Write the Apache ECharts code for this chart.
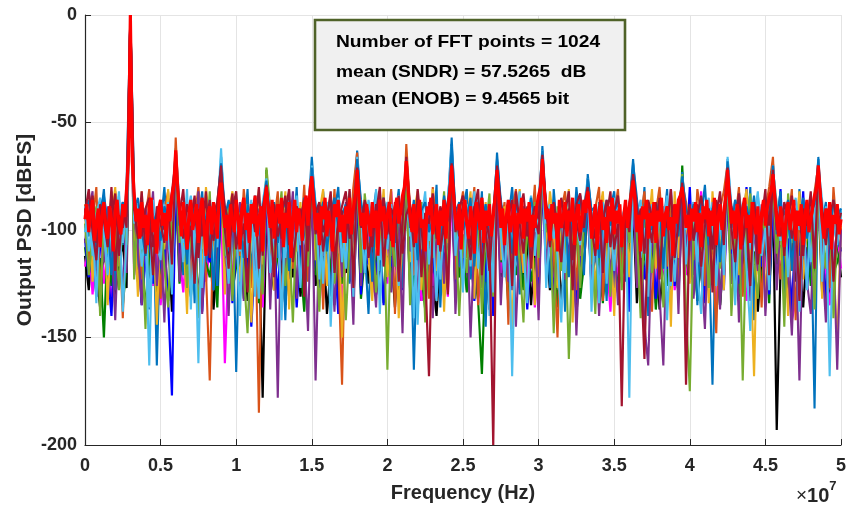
<!DOCTYPE html>
<html>
<head>
<meta charset="utf-8">
<script src="https://cdn.jsdelivr.net/npm/echarts@6/dist/echarts.min.js"></script>
<style>
  html, body { margin: 0; padding: 0; background: #fff; }
  #container { width: 855px; height: 508px; }
</style>
</head>
<body>
<div id="container"></div>
<script>
// FFT bin grids over 0 .. 50 MHz
const binHz = 250000
const freq = Array.from({ length: 201 }, (_, i) => i * binHz)
const fineBinHz = 125000
const freqFine = Array.from({ length: 401 }, (_, i) => i * fineBinHz)

const xTicks = ['0', '0.5', '1', '1.5', '2', '2.5', '3', '3.5', '4', '4.5', '5']
const yTicks = [0, -50, -100, -150, -200]

const infoLines = [
  'Number of FFT points = 1024',
  'mean (SNDR) = 57.5265  dB',
  'mean (ENOB) = 9.4565 bit'
]

// one PSD trace per Monte Carlo run (dBFS)
const run1 = [
  -94,-103,-87,-118,-96,-81,-112,-99,-128,-91,-107,-79,0,-82,-117,-95,-101,-137,-89,-163,
  -98,-80,-109,-93,-62,-88,-121,-100,-92,-134,-97,-82,-115,-104,-90,-126,-66,-95,-110,-88,
  -166,-93,-105,-81,-119,-98,-90,-129,-76,-101,-87,-113,-96,-142,-89,-107,-80,-122,-99,-93,
  -66,-91,-116,-82,-103,-131,-92,-80,-111,-97,-125,-88,-63,-90,-108,-139,-94,-82,-119,-100,
  -89,-112,-96,-81,-127,-65,-92,-165,-98,-87,-114,-93,-105,-79,-136,-99,-88,-57,-94,-117,
  -90,-81,-123,-97,-108,-82,-145,-92,-101,-64,-89,-118,-95,-80,-106,-130,-91,-99,-87,-112,
  -94,-61,-90,-127,-81,-103,-96,-138,-88,-109,-80,-99,-121,-74,-92,-115,-87,-104,-133,-90,
  -82,-111,-97,-124,-89,-67,-93,-107,-80,-140,-95,-88,-116,-99,-81,-128,-92,-104,-73,-96,
  -110,-87,-135,-94,-79,-106,-172,-90,-101,-118,-67,-91,-125,-82,-98,-113,-80,-142,-93,-105,
  -88,-120,-69,-95,-82,-131,-99,-90,-115,-81,-104,-127,-92,-183,-66,-97,-87,-121,-94,-108,
  -91
]
const run2 = [
  -88,-117,-96,-80,-129,-101,-90,-110,-82,-98,-141,-92,0,-105,-89,-123,-94,-81,-114,-99,
  -132,-91,-82,-107,-57,-97,-113,-88,-125,-95,-80,-102,-119,-170,-93,-87,-70,-108,-96,-130,
  -89,-112,-81,-99,-127,-94,-185,-90,-78,-115,-97,-82,-134,-101,-92,-118,-88,-106,-79,-124,
  -71,-98,-87,-137,-93,-108,-81,-116,-172,-91,-102,-80,-64,-111,-95,-88,-128,-99,-82,-113,
  -97,-81,-139,-92,-104,-60,-90,-121,-87,-109,-95,-132,-80,-100,-117,-89,-106,-65,-123,-93,
  -82,-113,-98,-80,-135,-94,-89,-110,-126,-69,-99,-87,-144,-92,-81,-107,-119,-90,-101,-79,
  -122,-64,-96,-88,-111,-150,-91,-82,-104,-95,-128,-87,-99,-77,-116,-90,-80,-133,-97,-108,
  -93,-81,-119,-101,-88,-72,-125,-94,-82,-110,-138,-92,-80,-105,-117,-89,-97,-129,-78,-87,
  -99,-114,-81,-93,-126,-88,-104,-148,-90,-82,-69,-109,-96,-80,-131,-92,-118,-87,-101,-136,
  -91,-80,-66,-106,-123,-89,-97,-81,-142,-94,-111,-88,-100,-82,-70,-115,-92,-127,-80,-103,
  -96
]
const run3 = [
  -99,-82,-124,-92,-108,-87,-135,-95,-80,-117,-90,-103,0,-92,-131,-82,-112,-98,-88,-144,
  -94,-109,-81,-127,-65,-91,-100,-139,-87,-106,-96,-121,-80,-99,-113,-89,-72,-130,-92,-82,
  -105,-124,-94,-88,-143,-101,-81,-116,-74,-93,-128,-89,-104,-82,-137,-95,-110,-87,-121,-99,
  -73,-114,-92,-81,-126,-97,-108,-88,-150,-94,-82,-119,-70,-98,-87,-112,-133,-91,-104,-81,
  -122,-96,-89,-141,-100,-72,-115,-92,-82,-128,-97,-107,-81,-119,-93,-138,-90,-66,-101,-88,
  -111,-95,-82,-132,-91,-103,-87,-124,-98,-74,-114,-89,-106,-146,-93,-81,-120,-100,-88,-135,
  -92,-70,-109,-82,-97,-127,-90,-104,-81,-143,-95,-112,-88,-80,-101,-129,-93,-82,-117,-98,
  -140,-91,-105,-87,-122,-75,-96,-136,-89,-100,-81,-118,-94,-108,-90,-145,-82,-113,-79,-99,
  -125,-88,-102,-116,-91,-134,-82,-107,-95,-128,-72,-100,-87,-121,-93,-81,-110,-168,-90,-103,
  -130,-95,-73,-88,-114,-99,-140,-89,-105,-82,-123,-97,-113,-87,-74,-132,-91,-101,-118,-152,
  -98
]
const run4 = [
  -106,-91,-82,-130,-98,-115,-89,-104,-142,-93,-87,-120,0,-96,-109,-135,-90,-101,-82,-126,
  -101,-143,-90,-97,-66,-124,-89,-106,-94,-117,-82,-139,-98,-91,-128,-103,-73,-95,-140,-93,
  -112,-87,-133,-99,-92,-121,-104,-88,-80,-137,-94,-178,-90,-118,-102,-82,-132,-97,-108,-147,
  -76,-170,-99,-112,-88,-104,-138,-93,-122,-87,-101,-144,-73,-126,-98,-89,-115,-136,-92,-107,
  -88,-129,-103,-94,-148,-74,-110,-98,-134,-90,-119,-87,-141,-102,-95,-125,-88,-72,-139,-100,
  -113,-92,-150,-105,-88,-127,-97,-116,-90,-77,-135,-99,-124,-89,-145,-103,-94,-131,-109,-96,
  -142,-72,-118,-95,-137,-101,-89,-123,-110,-92,-149,-104,-91,-84,-129,-97,-140,-106,-89,-121,
  -103,-135,-94,-112,-90,-79,-127,-98,-144,-163,-101,-92,-130,-163,-96,-114,-88,-139,-82,-108,
  -93,-132,-100,-118,-146,-95,-109,-89,-137,-102,-76,-125,-94,-143,-107,-91,-133,-99,-119,-88,
  -140,-105,-78,-128,-97,-90,-117,-149,-101,-170,-93,-124,-139,-96,-77,-112,-143,-91,-106,-165,
  -100
]
const run5 = [
  -97,-121,-103,-89,-140,-94,-111,-82,-100,-128,-92,-107,0,-123,-88,-101,-146,-91,-115,-95,
  -87,-118,-136,-93,-68,-106,-92,-127,-99,-88,-141,-97,-110,-82,-124,-95,-74,-112,-88,-133,
  -99,-92,-119,-148,-96,-87,-109,-130,-71,-90,-114,-98,-82,-126,-104,-143,-93,-100,-88,-117,
  -77,-104,-138,-95,-111,-88,-125,-99,-91,-142,-106,-93,-75,-120,-83,-101,-96,-129,-110,-90,
  -165,-97,-117,-88,-108,-73,-135,-94,-102,-87,-143,-99,-113,-91,-104,-82,-128,-71,-96,-140,
  -102,-120,-89,-111,-95,-139,-100,-83,-131,-75,-93,-106,-88,-125,-97,-115,-143,-92,-104,-87,
  -113,-71,-101,-93,-148,-89,-119,-96,-160,-106,-88,-127,-97,-79,-105,-139,-92,-98,-87,-131,
  -100,-94,-128,-89,-106,-78,-101,-141,-95,-88,-120,-104,-93,-136,-99,-83,-114,-96,-74,-137,
  -175,-98,-89,-110,-95,-127,-100,-88,-118,-93,-74,-140,-105,-91,-170,-99,-83,-116,-132,-94,
  -102,-89,-77,-111,-94,-145,-83,-106,-98,-124,-90,-103,-88,-137,-75,-96,-118,-89,-141,-100,
  -93
]
const run6 = [
  -89,-110,-95,-134,-87,-102,-121,-91,-99,-82,-138,-104,0,-94,-90,-117,-100,-163,-93,-107,
  -114,-88,-98,-130,-64,-92,-106,-81,-137,-96,-162,-90,-101,-87,-118,-94,-62,-99,-125,-89,
  -96,-140,-88,-113,-93,-105,-132,-87,-76,-120,-100,-89,-142,-94,-82,-111,-97,-127,-90,-104,
  -70,-87,-123,-98,-91,-145,-102,-88,-115,-96,-82,-131,-66,-93,-120,-90,-104,-81,-139,-97,
  -109,-88,-100,-126,-92,-67,-103,-89,-144,-95,-82,-116,-98,-133,-90,-107,-87,-61,-112,-94,
  -129,-91,-104,-82,-118,-97,-88,-140,-93,-68,-102,-122,-89,-168,-95,-82,-109,-134,-92,-101,
  -87,-63,-127,-100,-90,-112,-143,-94,-82,-121,-98,-107,-89,-76,-138,-93,-102,-88,-125,-96,
  -119,-90,-103,-87,-178,-70,-92,-113,-99,-131,-88,-106,-95,-89,-142,-101,-124,-91,-76,-116,
  -97,-88,-120,-139,-93,-102,-87,-126,-96,-110,-66,-89,-135,-100,-92,-117,-147,-94,-82,-112,
  -99,-128,-70,-93,-105,-88,-122,-96,-90,-138,-101,-87,-115,-97,-67,-124,-89,-168,-95,-107,
  -90
]
const run7 = [
  -92,-81,-101,-114,-88,-96,-108,-80,-119,-93,-99,-87,0,-90,-104,-82,-111,-95,-121,-89,
  -97,-106,-88,-116,-66,-93,-81,-109,-98,-125,-90,-103,-82,-113,-94,-87,-70,-100,-118,-91,
  -82,-107,-97,-129,-89,-101,-80,-112,-79,-95,-122,-88,-104,-92,-81,-115,-99,-90,-131,-94,
  -76,-102,-89,-110,-95,-82,-120,-98,-91,-106,-81,-127,-71,-96,-88,-113,-100,-92,-80,-117,
  -93,-105,-87,-124,-97,-66,-90,-108,-81,-99,-119,-168,-94,-88,-110,-96,-130,-69,-91,-103,
  -87,-98,-114,-90,-81,-121,-95,-104,-200,-70,-88,-100,-93,-126,-82,-97,-111,-89,-118,-94,
  -102,-65,-91,-108,-87,-99,-115,-92,-82,-128,-96,-105,-89,-80,-98,-112,-90,-120,-94,-82,
  -109,-97,-182,-91,-101,-74,-88,-116,-160,-95,-106,-87,-123,-93,-99,-81,-113,-96,-78,-172,
  -92,-104,-88,-117,-98,-90,-129,-94,-82,-107,-71,-99,-115,-89,-102,-93,-126,-87,-110,-96,
  -81,-121,-72,-100,-91,-112,-88,-104,-95,-133,-90,-98,-82,-118,-70,-94,-107,-89,-124,-97,
  -100
]
const run8 = [
  -90,-97,-84,-106,-92,-88,-101,-95,-83,-112,-89,-99,0,-86,-94,-103,-90,-85,-108,-93,
  -87,-100,-95,-82,-68,-91,-104,-88,-96,-84,-113,-92,-98,-86,-105,-91,-74,-89,-97,-83,
  -109,-94,-87,-99,-92,-85,-118,-90,-80,-96,-88,-103,-93,-84,-107,-98,-89,-95,-86,-110,
  -78,-92,-87,-101,-94,-84,-115,-96,-89,-82,-104,-91,-74,-99,-86,-93,-108,-88,-97,-85,
  -102,-90,-95,-84,-111,-93,-88,-99,-86,-122,-92,-97,-83,-104,-89,-95,-87,-72,-101,-90,
  -84,-96,-107,-89,-93,-85,-100,-119,-91,-75,-88,-98,-94,-86,-110,-92,-83,-103,-97,-89,
  -95,-70,-87,-100,-92,-106,-85,-96,-90,-114,-88,-83,-99,-82,-93,-104,-89,-97,-86,-108,
  -91,-84,-102,-95,-88,-76,-98,-90,-111,-86,-94,-101,-85,-97,-89,-124,-92,-87,-80,-99,
  -88,-105,-93,-84,-97,-90,-109,-86,-95,-101,-74,-89,-96,-83,-107,-92,-99,-88,-116,-94,
  -86,-98,-75,-91,-103,-87,-95,-84,-100,-92,-112,-88,-97,-85,-73,-90,-104,-93,-86,-99,
  -92
]
const run9 = [
  -101,-87,-112,-93,-85,-98,-120,-90,-95,-84,-106,-91,0,-97,-88,-109,-93,-136,-86,-99,
  -92,-104,-87,-96,-70,-89,-115,-93,-84,-101,-90,-127,-95,-86,-99,-108,-66,-91,-97,-85,
  -94,-110,-88,-99,-86,-131,-92,-97,-79,-89,-104,-95,-86,-113,-91,-98,-84,-107,-93,-88,
  -74,-96,-90,-125,-87,-94,-101,-85,-92,-118,-88,-97,-70,-91,-103,-86,-95,-89,-114,-93,
  -87,-99,-92,-84,-109,-96,-88,-141,-91,-97,-85,-105,-93,-89,-123,-95,-86,-64,-100,-90,
  -96,-88,-117,-92,-85,-102,-94,-89,-129,-72,-91,-98,-86,-108,-93,-87,-100,-95,-84,-112,
  -90,-66,-97,-88,-104,-93,-86,-120,-95,-89,-101,-84,-92,-79,-98,-90,-134,-87,-96,-91,
  -85,-107,-94,-89,-99,-73,-92,-86,-110,-95,-88,-103,-91,-97,-84,-126,-93,-89,-80,-100,
  -94,-87,-115,-91,-98,-85,-104,-92,-89,-121,-69,-95,-86,-101,-93,-88,-109,-96,-84,-97,
  -91,-103,-72,-88,-96,-110,-87,-94,-85,-100,-92,-128,-89,-97,-70,-86,-106,-93,-99,-88,
  -95
]
const run10 = [
  -93,-86,-99,-108,-90,-84,-96,-121,-89,-102,-87,-94,0,-91,-85,-100,-112,-88,-97,-92,
  -105,-89,-95,-86,-64,-98,-90,-116,-87,-93,-103,-85,-97,-91,-128,-88,-69,-94,-86,-101,
  -90,-97,-113,-88,-95,-84,-102,-91,-77,-99,-87,-106,-92,-86,-119,-94,-89,-98,-85,-103,
  -71,-89,-96,-87,-110,-92,-85,-99,-93,-88,-104,-95,-67,-86,-98,-91,-124,-89,-94,-85,
  -97,-90,-106,-88,-93,-68,-99,-86,-114,-91,-87,-101,-95,-89,-108,-84,-96,-60,-92,-87,
  -100,-94,-85,-117,-90,-97,-88,-104,-93,-67,-86,-99,-91,-111,-87,-95,-89,-102,-85,-96,
  -88,-63,-92,-99,-86,-107,-94,-90,-122,-87,-96,-84,-101,-76,-91,-89,-113,-95,-86,-98,
  -92,-87,-104,-90,-97,-69,-85,-109,-93,-88,-100,-94,-86,-118,-91,-97,-89,-103,-75,-90,
  -96,-88,-101,-85,-93,-107,-90,-87,-115,-94,-68,-99,-86,-92,-105,-89,-97,-84,-110,-91,
  -87,-95,-70,-102,-89,-93,-86,-119,-91,-98,-85,-104,-92,-88,-67,-96,-90,-107,-86,-94,
  -90
]
const runBlue = [
  -104,-122,-96,-131,-108,-93,-117,-140,-99,-112,-127,-101,0,-109,-98,-135,-114,-102,-125,-95,
  -118,-106,-133,-177,-75,-111,-99,-129,-104,-119,-97,-138,-107,-115,-100,-126,-82,-113,-103,-134,
  -109,-98,-121,-106,-145,-112,-100,-127,-86,-116,-104,-132,-97,-110,-123,-101,-136,-108,-95,-118,
  -84,-113,-127,-102,-119,-96,-109,-139,-105,-98,-124,-111,-80,-130,-103,-116,-99,-121,-107,-135,
  -100,-117,-105,-97,-128,-79,-114,-102,-137,-108,-96,-120,-110,-131,-99,-115,-104,-76,-126,-101,
  -118,-106,-96,-133,-111,-100,-124,-98,-140,-82,-107,-119,-97,-128,-104,-113,-99,-137,-109,-102,
  -125,-78,-112,-99,-131,-105,-96,-119,-108,-100,-134,-114,-97,-88,-122,-106,-129,-101,-116,-98,
  -127,-104,-115,-97,-138,-83,-110,-100,-123,-107,-96,-132,-112,-99,-118,-81,-126,-103,-85,-114,
  -80,-121,-107,-97,-134,-109,-101,-119,-96,-128,-84,-111,-99,-125,-105,-80,-113,-136,-102,-117,
  -98,-130,-86,-107,-81,-120,-104,-139,-97,-112,-82,-127,-100,-115,-80,-108,-133,-99,-121,-103,
  -110
]
const runBlack = [
  -112,-128,-104,-119,-136,-108,-123,-101,-131,-115,-106,-127,0,-118,-103,-134,-110,-125,-107,-120,
  -129,-111,-102,-138,-80,-116,-105,-126,-113,-100,-132,-109,-121,-104,-137,-114,-88,-123,-106,-130,
  -108,-119,-101,-133,-115,-124,-106,-178,-90,-112,-128,-103,-117,-135,-109,-122,-100,-131,-114,-107,
  -85,-126,-111,-102,-139,-118,-105,-129,-113,-120,-101,-134,-84,-116,-108,-125,-103,-130,-117,-106,
  -121,-110,-136,-104,-119,-82,-127,-112,-101,-133,-115,-106,-124,-140,-109,-118,-103,-80,-129,-114,
  -107,-125,-111,-132,-102,-120,-116,-137,-105,-84,-122,-108,-130,-113,-101,-127,-119,-104,-135,-110,
  -118,-79,-106,-128,-115,-103,-133,-112,-121,-107,-139,-117,-102,-90,-126,-111,-104,-131,-114,-120,
  -105,-129,-113,-122,-108,-88,-134,-106,-119,-126,-111,-103,-137,-115,-109,-124,-101,-130,-86,-117,
  -123,-108,-131,-114,-105,-128,-119,-102,-135,-112,-84,-125,-107,-133,-116,-104,-121,-110,-138,-113,
  -106,-127,-87,-193,-118,-109,-132,-104,-124,-115,-136,-108,-120,-103,-84,-129,-111,-134,-117,-105,
  -122
]
const runMagenta = [
  -117,-105,-130,-112,-99,-125,-108,-134,-115,-103,-128,-110,0,-121,-107,-131,-113,-100,-126,-109,
  -135,-116,-104,-122,-78,-111,-129,-106,-119,-101,-133,-114,-124,-108,-98,-127,-86,-162,-112,-120,
  -103,-131,-109,-117,-126,-100,-114,-136,-88,-107,-123,-111,-99,-130,-116,-105,-128,-113,-121,-102,
  -82,-119,-108,-132,-104,-124,-112,-98,-135,-110,-120,-106,-83,-127,-115,-101,-129,-109,-118,-103,
  -125,-82,-113,-130,-107,-80,-121,-111,-99,-133,-116,-104,-126,-109,-119,-100,-131,-84,-114,-122,
  -106,-128,-112,-97,-134,-117,-103,-125,-110,-86,-120,-105,-131,-114,-100,-127,-108,-123,-99,-136,
  -111,-81,-118,-104,-129,-113,-101,-132,-107,-122,-98,-126,-115,-92,-109,-130,-103,-119,-112,-138,
  -106,-124,-100,-116,-131,-87,-113,-127,-102,-120,-109,-134,-99,-117,-125,-105,-128,-111,-90,-121,
  -103,-130,-114,-82,-126,-108,-119,-137,-101,-123,-86,-112,-129,-106,-118,-133,-100,-124,-110,-127,
  -115,-102,-88,-121,-109,-131,-104,-142,-133,-116,-98,-125,-111,-128,-85,-107,-120,-135,-113,-101,
  -118
]
const runGreen = [
  -108,-121,-99,-131,-113,-150,-104,-126,-111,-97,-135,-116,0,-102,-124,-109,-137,-114,-100,-129,
  -118,-106,-133,-112,-79,-125,-103,-119,-131,-108,-100,-127,-115,-122,-105,-136,-84,-113,-101,-128,
  -117,-104,-132,-110,-123,-99,-134,-114,-72,-106,-126,-111,-101,-130,-119,-107,-124,-115,-138,-103,
  -84,-121,-109,-129,-102,-117,-135,-111,-125,-104,-119,-100,-82,-132,-113,-106,-127,-118,-101,-134,
  -112,-123,-105,-130,-116,-81,-109,-128,-102,-120,-137,-108,-114,-125,-100,-131,-117,-79,-106,-122,
  -110,-129,-104,-119,-133,-167,-112,-101,-126,-83,-115,-107,-135,-103,-121,-111,-128,-99,-124,-113,
  -130,-80,-105,-120,-114,-136,-102,-127,-109,-118,-100,-132,-116,-88,-108,-125,-111,-134,-104,-119,
  -112,-128,-101,-123,-115,-85,-106,-131,-110,-120,-103,-137,-117,-105,-126,-99,-114,-129,-70,-111,
  -124,-104,-133,-113,-100,-127,-118,-108,-135,-102,-82,-121,-112,-130,-106,-119,-103,-128,-114,-125,
  -101,-134,-85,-116,-107,-123,-111,-138,-104,-129,-113,-100,-126,-117,-83,-109,-132,-105,-120,-115,
  -108
]
// highlighted run (drawn on top), finer grid
const runRed = [
  -95,-88,-101,-92,-86,-105,-97,-90,-108,-93,-87,-99,-104,-89,-95,-110,-91,-86,-98,-102,
  -88,-94,-81,-66,0,-68,-83,-96,-90,-104,-87,-99,-93,-107,-89,-85,-101,-95,-111,-90,
  -86,-98,-92,-105,-88,-96,-84,-79,-63,-80,-91,-103,-87,-97,-109,-92,-86,-100,-94,-88,
  -106,-91,-85,-98,-112,-93,-89,-102,-87,-95,-104,-84,-78,-90,-99,-93,-108,-88,-96,-101,
  -86,-94,-109,-90,-85,-100,-92,-106,-88,-97,-84,-103,-95,-89,-110,-87,-80,-91,-99,-86,
  -104,-93,-88,-97,-85,-108,-92,-99,-87,-113,-94,-86,-101,-90,-96,-105,-88,-84,-98,-82,
  -75,-87,-100,-92,-107,-89,-95,-85,-103,-91,-98,-110,-88,-94,-86,-101,-93,-106,-89,-97,
  -85,-102,-90,-84,-72,-86,-98,-92,-109,-88,-95,-103,-87,-99,-91,-112,-86,-96,-89,-104,
  -93,-87,-100,-108,-90,-85,-97,-92,-84,-80,-68,-82,-94,-101,-88,-106,-92,-86,-99,-95,
  -110,-89,-93,-85,-102,-96,-88,-107,-91,-98,-86,-104,-90,-83,-70,-84,-95,-100,-88,-109,
  -92,-86,-97,-104,-89,-95,-111,-87,-93,-100,-85,-106,-91,-98,-88,-103,-94,-84,-72,-86,
  -99,-90,-107,-93,-86,-101,-95,-88,-112,-92,-97,-85,-104,-90,-96,-87,-108,-93,-99,-89,
  -84,-80,-67,-81,-95,-90,-105,-88,-97,-92,-110,-86,-99,-94,-87,-103,-91,-96,-85,-107,
  -93,-88,-101,-95,-86,-92,-82,-90,-104,-97,-88,-109,-93,-86,-100,-94,-106,-89,-96,-85,
  -102,-91,-97,-88,-108,-94,-86,-99,-90,-84,-77,-87,-101,-93,-110,-89,-95,-86,-104,-92,
  -98,-87,-106,-91,-96,-85,-103,-93,-89,-100,-94,-112,-88,-97,-86,-84,-80,-88,-99,-93,
  -105,-90,-96,-87,-101,-92,-108,-89,-95,-86,-103,-91,-98,-85,-107,-94,-88,-100,-92,-84,
  -72,-86,-97,-91,-104,-88,-94,-109,-90,-85,-99,-93,-106,-87,-96,-102,-89,-111,-92,-86,
  -98,-90,-85,-82,-74,-85,-95,-103,-89,-97,-108,-92,-87,-100,-94,-86,-105,-91,-98,-88,
  -107,-93,-86,-101,-95,-89,-84,-81,-70,-83,-96,-104,-90,-99,-87,-109,-93,-97,-88,-102,
  -95
]

const runs = [
  { data: runBlack, color: '#000000', width: 2.2 },
  { data: runMagenta, color: '#ff00ff', width: 2.2 },
  { data: runGreen, color: '#008000', width: 2.2 },
  { data: runBlue, color: '#0000ff', width: 2.2 },
  { data: run1, color: '#0072bd', width: 2.1 },
  { data: run2, color: '#d95319', width: 2.1 },
  { data: run3, color: '#edb120', width: 2.1 },
  { data: run4, color: '#7e2f8e', width: 2.1 },
  { data: run5, color: '#77ac30', width: 2.1 },
  { data: run6, color: '#4dbeee', width: 2.1 },
  { data: run9, color: '#4dbeee', width: 2.1 },
  { data: run10, color: '#0072bd', width: 2.1 },
  { data: run8, color: '#a2142f', width: 2.2 },
  { data: run7, color: '#a2142f', width: 2.2 },
  { data: runRed, color: '#ff0000', width: 3.2, fine: true }
]

const font = 'Arial, "Liberation Sans", Helvetica, sans-serif'
const chart = echarts.init(document.getElementById('container'), null, { renderer: 'canvas' })

chart.setOption({
  animation: false,
  backgroundColor: '#ffffff',
  grid: { left: 85, right: 14, top: 15, bottom: 63 },
  xAxis: {
    type: 'value',
    min: 0,
    max: 5e7,
    interval: 5e6,
    name: 'Frequency (Hz)',
    nameLocation: 'middle',
    nameGap: 38,
    nameMoveOverlap: false,
    nameTextStyle: { fontFamily: font, fontWeight: 'bold', fontSize: 20, color: '#262626' },
    axisLine: { onZero: false, lineStyle: { color: '#262626', width: 1.2 } },
    axisTick: { inside: true, length: 6, lineStyle: { color: '#262626' } },
    axisLabel: {
      margin: 12,
      fontFamily: font,
      fontWeight: 'bold',
      fontSize: 18,
      color: '#262626',
      formatter: (v) => xTicks[Math.round(v / 5e6)]
    },
    splitLine: { show: true, lineStyle: { color: '#e4e4e4', width: 1 } }
  },
  yAxis: {
    type: 'value',
    min: -200,
    max: 0,
    interval: 50,
    name: 'Output PSD [dBFS]',
    nameLocation: 'middle',
    nameGap: 49,
    nameMoveOverlap: false,
    nameRotate: 90,
    nameTextStyle: { fontFamily: font, fontWeight: 'bold', fontSize: 21, color: '#262626' },
    axisLine: { show: true, onZero: false, lineStyle: { color: '#262626', width: 1.2 } },
    axisTick: { show: true, inside: true, length: 6, lineStyle: { color: '#262626' } },
    axisLabel: {
      margin: 8,
      fontFamily: font,
      fontWeight: 'bold',
      fontSize: 18,
      color: '#262626',
      formatter: (v) => (yTicks.includes(v) ? String(v) : '')
    },
    splitLine: { show: true, lineStyle: { color: '#e4e4e4', width: 1 } }
  },
  series: runs.map((r, k) => {
    const grid = r.fine ? freqFine : freq
    return {
      type: 'line',
      name: 'run' + k,
      symbol: 'none',
      silent: true,
      z: 2 + k,
      lineStyle: { color: r.color, width: r.width },
      data: grid.map((f, i) => [f, r.data[i]])
    }
  }),
  graphic: [
    {
      type: 'rect',
      z: 100,
      shape: { x: 315, y: 20, width: 310, height: 110 },
      style: { fill: '#f0f0f0', stroke: '#4f6228', lineWidth: 2.6 }
    },
    ...infoLines.map((t, i) => ({
      type: 'text',
      z: 101,
      x: 336,
      y: [42, 72, 99][i],
      scaleX: 1.13,
      style: {
        text: t,
        fontFamily: font,
        fontWeight: 'bold',
        fontSize: 17,
        fill: '#000',
        align: 'left',
        verticalAlign: 'middle'
      }
    })),
    {
      type: 'text',
      z: 101,
      left: 796,
      top: 480,
      style: {
        text: '{m|×}{a|10}{s|7}',
        fontFamily: font,
        rich: {
          m: { fontSize: 19, fill: '#262626', fontFamily: font, padding: [9, 0, 0, 0] },
          a: { fontSize: 20, fontWeight: 'bold', fill: '#262626', fontFamily: font, padding: [9, 0, 0, 0] },
          s: { fontSize: 13, fontWeight: 'bold', fill: '#262626', fontFamily: font, padding: [0, 0, 10, 0] }
        }
      }
    }
  ]
})
</script>
</body>
</html>
